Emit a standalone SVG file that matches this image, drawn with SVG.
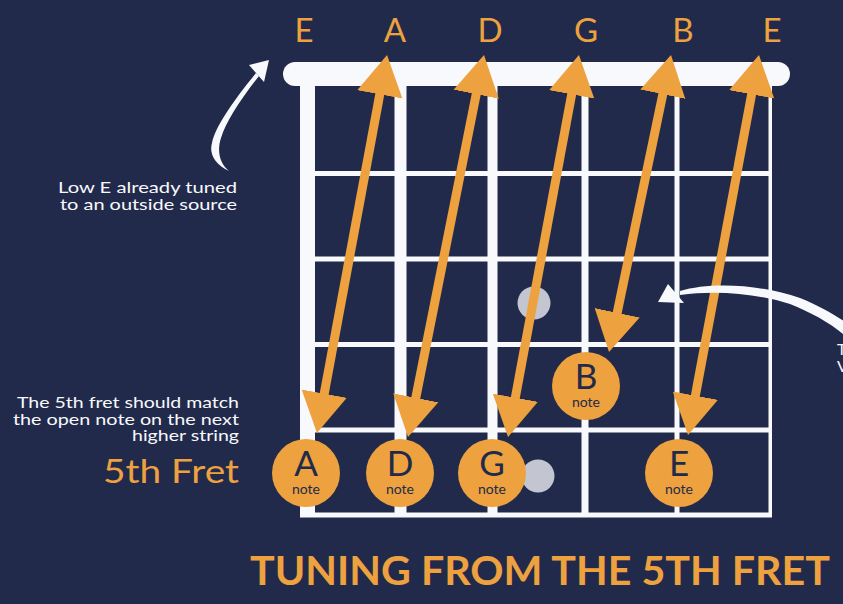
<svg xmlns="http://www.w3.org/2000/svg" width="843" height="604" viewBox="0 0 843 604">
<defs>
<style>
.bg{fill:#222a4b}
.wh{fill:#f8f9fc}
.dot{fill:#c3c5d0}
.note{fill:#eda13f}
.arr{stroke:#eda13f;stroke-width:9;fill:none;marker-start:url(#head);marker-end:url(#head)}
.lbl{font-family:Lato,"Noto Sans",sans-serif;fill:#eda13f;font-size:33px;text-anchor:middle}
.nl{font-family:Lato,"Noto Sans",sans-serif;fill:#222a4b;font-size:35px;text-anchor:middle}
.ns{font-size:14px}
.txt{font-family:Lato,"Noto Sans",sans-serif;fill:#f8f9fc;font-size:16px;text-anchor:end}
.big{font-family:Lato,"Noto Sans",sans-serif;fill:#eda13f;font-size:33px;text-anchor:end}
.title{font-family:Lato,"Noto Sans",sans-serif;fill:#eda13f;font-size:41px;font-weight:bold}
</style>
<marker id="head" viewBox="0 -25 42 50" markerUnits="userSpaceOnUse" markerWidth="42" markerHeight="50" refX="20" refY="0" orient="auto-start-reverse">
<path d="M0,-23 L40,0 L0,23 Z" fill="#eda13f"/>
</marker>
</defs>
<rect class="bg" x="0" y="0" width="843" height="604"/>

<g id="fretboard">
<rect class="wh" x="283" y="62" width="507" height="24" rx="12"/>
<rect class="wh" x="300" y="80" width="15" height="437"/>
<rect class="wh" x="394.5" y="80" width="12" height="437"/>
<rect class="wh" x="487.5" y="80" width="10" height="437"/>
<rect class="wh" x="581.5" y="80" width="7" height="437"/>
<rect class="wh" x="674.5" y="80" width="5" height="437"/>
<rect class="wh" x="768.5" y="80" width="3.5" height="437"/>
<rect class="wh" x="300" y="171" width="472" height="5"/>
<rect class="wh" x="300" y="256.5" width="472" height="5"/>
<rect class="wh" x="300" y="342" width="472" height="5"/>
<rect class="wh" x="300" y="427.5" width="472" height="5"/>
<rect class="wh" x="300" y="512.5" width="472" height="5"/>
<circle class="dot" cx="534" cy="303" r="16.5"/>
<circle class="dot" cx="538" cy="476" r="16.5"/>
</g>

<g id="string-labels">
<text class="lbl" x="304" y="42">E</text>
<text class="lbl" x="395" y="42">A</text>
<text class="lbl" x="490" y="42">D</text>
<text class="lbl" x="586" y="42">G</text>
<text class="lbl" x="683" y="42">B</text>
<text class="lbl" x="772" y="42">E</text>
</g>

<g id="note-A"><circle class="note" cx="306" cy="473" r="34"/><text class="nl" x="306" y="476">A<tspan class="ns" x="306" dy="18">note</tspan></text></g>
<g id="note-D"><circle class="note" cx="400" cy="473" r="34"/><text class="nl" x="400" y="476">D<tspan class="ns" x="400" dy="18">note</tspan></text></g>
<g id="note-G"><circle class="note" cx="492" cy="473" r="34"/><text class="nl" x="492" y="476">G<tspan class="ns" x="492" dy="18">note</tspan></text></g>
<g id="note-B"><circle class="note" cx="586" cy="386" r="34"/><text class="nl" x="586" y="389">B<tspan class="ns" x="586" dy="18">note</tspan></text></g>
<g id="note-E"><circle class="note" cx="679" cy="473" r="34"/><text class="nl" x="679" y="476">E<tspan class="ns" x="679" dy="18">note</tspan></text></g>

<g id="connectors">
<line class="arr" x1="383.4" y1="74.7" x2="320.6" y2="413.3"/>
<line class="arr" x1="480.1" y1="74.6" x2="411.9" y2="417.4"/>
<line class="arr" x1="575.3" y1="74.7" x2="511.7" y2="417.3"/>
<line class="arr" x1="666.9" y1="74.6" x2="613.1" y2="332.4"/>
<line class="arr" x1="755.3" y1="74.7" x2="691.7" y2="415.3"/>
<path class="wh" d="M229,171 C214,164 209,153 212,143 C215,128 230,105 256,73 L259,76 C240,100 226,122 221,138 C217,150 219,163 229,171 Z"/>
<polygon class="wh" points="269,60 249,65 264,82"/>
<path class="wh" d="M680,291 C710,282 760,284 800,298 C820,306 835,315 850,325 L850,340 C835,326 815,314 790,304 C755,293 715,290 680,295 Z"/>
<polygon class="wh" points="658,302 668,284 684,303"/>
</g>

<g id="annotations">
<text class="txt" x="237" y="193" textLength="179" lengthAdjust="spacingAndGlyphs">Low E already tuned</text>
<text class="txt" x="237" y="210" textLength="177" lengthAdjust="spacingAndGlyphs">to an outside source</text>
<text class="txt" x="239" y="407.5" textLength="222" lengthAdjust="spacingAndGlyphs">The 5th fret should match</text>
<text class="txt" x="239" y="424.5" textLength="226" lengthAdjust="spacingAndGlyphs">the open note on the next</text>
<text class="txt" x="239" y="441" textLength="107" lengthAdjust="spacingAndGlyphs">higher string</text>
<text class="big" x="239" y="483" textLength="136" lengthAdjust="spacingAndGlyphs">5th Fret</text>
<text class="txt" x="837" y="355" style="text-anchor:start">T<tspan x="837" dy="17">V</tspan></text>
<text class="title" x="250" y="585" textLength="580" lengthAdjust="spacingAndGlyphs">TUNING FROM THE 5TH FRET</text>
</g>
</svg>
